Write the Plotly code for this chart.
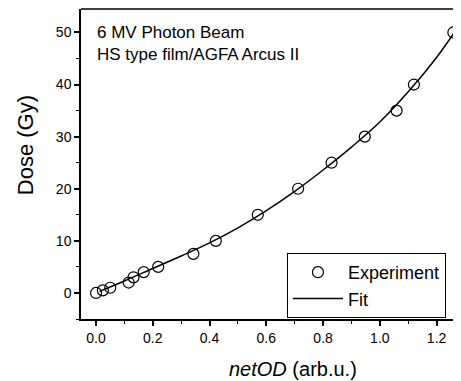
import plotly.graph_objects as go

# Experimental data (netOD, Dose in Gy)
exp_netod = [0.0, 0.024, 0.05, 0.115, 0.132, 0.168, 0.219, 0.343, 0.422, 0.570, 0.712, 0.830, 0.947, 1.059, 1.120, 1.259]
exp_dose = [0.0, 0.5, 1.0, 2.0, 3.0, 4.0, 5.0, 7.5, 10.0, 15.0, 20.0, 25.0, 30.0, 35.0, 40.0, 50.0]

# Fit curve
fit_netod = [0.012, 0.1, 0.2, 0.3, 0.4, 0.5, 0.6, 0.7, 0.8, 0.9, 1.0, 1.1, 1.2, 1.26]
fit_dose = [0.3, 2.3, 4.7, 7.1, 9.6, 12.5, 15.8, 19.5, 23.6, 28.0, 32.8, 38.6, 45.2, 49.8]

x_ticks = [0.0, 0.2, 0.4, 0.6, 0.8, 1.0, 1.2]
x_ticklabels = ["0.0", "0.2", "0.4", "0.6", "0.8", "1.0", "1.2"]
y_ticks = [0, 10, 20, 30, 40, 50]

FONT = "Liberation Sans, Arial, sans-serif"

fig = go.Figure()
fig.add_trace(go.Scatter(
    x=exp_netod, y=exp_dose, mode="markers", name="Experiment", cliponaxis=False,
    marker=dict(symbol="circle-open", size=11, color="black", line=dict(width=1.2, color="black")),
))
fig.add_trace(go.Scatter(
    x=fit_netod, y=fit_dose, mode="lines", name="Fit", line_shape="spline",
    line=dict(color="black", width=1.5),
))

axis_common = dict(
    showline=True, linecolor="black", linewidth=1.5,
    ticks="outside", ticklen=5, tickwidth=1.5, tickcolor="black",
    showgrid=False, zeroline=False,
    tickfont=dict(family=FONT, size=14, color="black"),
)

fig.update_xaxes(range=[-0.053, 1.286], tickvals=x_ticks, ticktext=x_ticklabels,
                 minor=dict(ticks="outside", ticklen=3, tickwidth=1.2, tickcolor="black", dtick=0.1, tick0=0),
                 **axis_common)
fig.update_yaxes(range=[-5, 54.5], tickvals=y_ticks,
                 minor=dict(ticks="outside", ticklen=3, tickwidth=1.2, tickcolor="black", dtick=5, tick0=0),
                 **axis_common)

# top frame line
fig.add_shape(type="line", xref="paper", yref="paper", x0=0, x1=1, y0=1, y1=1,
              line=dict(color="black", width=1.5))
# legend shadow
fig.add_shape(type="rect", xref="paper", yref="paper", x0=0.553, x1=0.95, y0=0.0097, y1=0.197,
              fillcolor="black", line=dict(width=0), layer="above")

fig.add_annotation(xref="paper", yref="paper", x=0.037, y=0.96, xanchor="left", yanchor="top",
                   align="left", showarrow=False,
                   text="6 MV Photon Beam<br>HS type film/AGFA Arcus II",
                   font=dict(family=FONT, size=17, color="black"))

# axis titles
fig.add_annotation(xref="paper", yref="paper", x=0.558, y=-0.161,
                   xanchor="center", yanchor="middle", showarrow=False,
                   text="<i>netOD</i> (arb.u.)", font=dict(family=FONT, size=20, color="black"))
fig.add_annotation(xref="paper", yref="paper", x=-0.147, y=0.561,
                   xanchor="center", yanchor="middle", showarrow=False, textangle=-90,
                   text="Dose (Gy)", font=dict(family=FONT, size=22, color="black"))

fig.update_layout(
    width=453, height=373,
    margin=dict(l=73, r=0, t=1, b=62, autoexpand=False),
    plot_bgcolor="white", paper_bgcolor="white",
    showlegend=True,
    legend=dict(x=0.542, y=0.213, xanchor="left", yanchor="top",
                bgcolor="white", bordercolor="black", borderwidth=1,
                font=dict(family=FONT, size=18, color="black"),
                itemwidth=50, tracegroupgap=0),
)

fig.write_html("out.html")
